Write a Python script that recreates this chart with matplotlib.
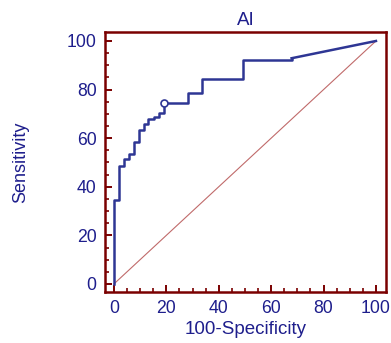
import matplotlib
matplotlib.use("Agg")
import matplotlib.pyplot as plt
from matplotlib.ticker import MultipleLocator

# ROC operating points (100-Specificity, Sensitivity)
fpr = [0, 0, 2.0, 3.8, 5.7, 7.5, 9.7, 11.3, 13.2, 15.3, 17.1, 19.0, 28.2, 33.8, 49.1, 67.8, 100]
tpr = [0, 34.6, 48.7, 51.4, 53.5, 58.4, 63.4, 65.7, 67.9, 68.6, 70.5, 74.6, 78.7, 84.5, 92.1, 92.9, 100]
crit_x, crit_y = 19.0, 74.6

title = "AI"
xlabel = "100-Specificity"
ylabel = "Sensitivity"

navy = "#1e1e8c"
curve = "#2e3694"
dark_red = "#7a0000"

plt.rcParams["font.family"] = ["Liberation Sans", "DejaVu Sans"]

fig = plt.figure(figsize=(3.91, 3.43), dpi=100)
ax = fig.add_axes([0.2685, 0.1487, 0.987 - 0.2685, 0.9067 - 0.1487])

# diagonal reference line
ax.plot([0, 100], [0, 100], color="#c06a6a", lw=0.8, zorder=2)

# ROC curve: steps then last straight segment
ax.plot(fpr[:-1], tpr[:-1], drawstyle="steps-post", color=curve, lw=1.8, zorder=3)
ax.plot(fpr[-2:], tpr[-2:], color=curve, lw=1.8, zorder=3)
ax.plot([crit_x], [crit_y], marker="o", ms=5, mfc="white", mec=curve, mew=1.2, zorder=4)

ax.set_xlim(-3.4, 103.8)
ax.set_ylim(-3.3, 103.7)
ax.xaxis.set_major_locator(MultipleLocator(20))
ax.xaxis.set_minor_locator(MultipleLocator(5))
ax.yaxis.set_major_locator(MultipleLocator(20))
ax.yaxis.set_minor_locator(MultipleLocator(5))

for s in ax.spines.values():
    s.set_color(dark_red)
    s.set_linewidth(1.8)

ax.tick_params(which="major", direction="in", length=5, width=1.4, color=dark_red,
               labelsize=12.7, labelcolor=navy, pad=6)
ax.tick_params(which="minor", direction="in", length=3, width=1.2, color=dark_red)

ax.set_title(title, color=navy, fontsize=13.5, pad=5)
ax.set_xlabel(xlabel, color=navy, fontsize=13.5, labelpad=3)
ax.set_ylabel(ylabel, color=navy, fontsize=13, labelpad=27)

fig.savefig("out.png", dpi=100)
